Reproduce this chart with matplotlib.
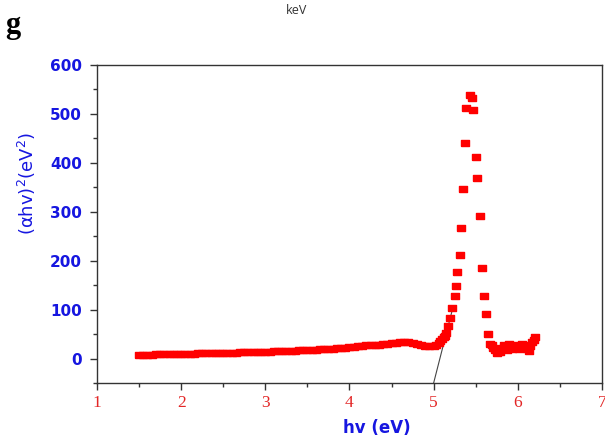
import matplotlib
matplotlib.use("Agg")
import matplotlib.pyplot as plt
from matplotlib.ticker import MultipleLocator

# photon energy (eV) and (alpha*h*nu)^2 (eV^2)
energy = [
    1.50, 1.55, 1.60, 1.65, 1.70, 1.75, 1.80, 1.85, 1.90, 1.95,
    2.00, 2.05, 2.10, 2.15, 2.20, 2.25, 2.30, 2.35, 2.40, 2.45,
    2.50, 2.55, 2.60, 2.65, 2.70, 2.75, 2.80, 2.85, 2.90, 2.95,
    3.00, 3.05, 3.10, 3.15, 3.20, 3.25, 3.30, 3.35, 3.40, 3.45,
    3.50, 3.55, 3.60, 3.65, 3.70, 3.75, 3.80, 3.85, 3.90, 3.95,
    4.00, 4.05, 4.10, 4.15, 4.20, 4.25, 4.30, 4.35, 4.40, 4.45,
    4.50, 4.55, 4.60, 4.65, 4.70, 4.75, 4.80, 4.85, 4.90, 4.95,
    5.00, 5.03, 5.06, 5.08, 5.10, 5.12, 5.13, 5.15, 5.17, 5.19,
    5.22, 5.25, 5.27, 5.28, 5.31, 5.33, 5.35, 5.37, 5.39, 5.43,
    5.45, 5.47, 5.50, 5.52, 5.55, 5.57, 5.60, 5.62, 5.65, 5.67,
    5.69, 5.71, 5.73, 5.75, 5.77, 5.79, 5.81, 5.83, 5.85, 5.87,
    5.89, 5.91, 5.93, 5.95, 5.97, 5.99, 6.01, 6.03, 6.05, 6.07,
    6.09, 6.11, 6.13, 6.15, 6.17, 6.19, 6.21,
]
absorption = [
    8, 8, 8, 8, 9, 9, 9, 9, 9, 10,
    10, 10, 10, 10, 11, 11, 11, 11, 11, 12,
    12, 12, 12, 12, 13, 13, 13, 13, 14, 14,
    14, 14, 15, 15, 15, 16, 16, 16, 17, 17,
    17, 18, 18, 19, 19, 20, 20, 21, 21, 22,
    23, 24, 25, 26, 27, 27, 28, 28, 29, 30,
    31, 32, 33, 33, 33, 32, 30, 28, 26, 25,
    26, 28, 32, 36, 40, 44, 47, 53, 66, 83,
    104, 127, 148, 176, 212, 266, 347, 441, 513, 539,
    533, 508, 412, 369, 291, 186, 127, 92, 51, 30,
    28, 22, 18, 12, 15, 13, 22, 27, 20, 18,
    30, 22, 20, 22, 27, 24, 20, 25, 30, 28,
    23, 20, 16, 25, 33, 38, 44,
]

# linear extrapolation of the absorption edge
tangent_x = [5.00, 5.23]
tangent_y = [-50, 105]

blue = "#1616e0"
red = "#e32626"

fig = plt.figure(figsize=(6.05, 4.36), dpi=100)
ax = fig.add_axes([0.1603, 0.1216, 0.8347, 0.7294])

rect = [(-1, -0.7), (1, -0.7), (1, 0.7), (-1, 0.7), (-1, -0.7)]
ax.plot(energy, absorption, linestyle="none", marker=rect, ms=6,
        color="red", mec="red", zorder=3)
ax.plot(tangent_x, tangent_y, color="#444444", lw=0.8, zorder=2)

ax.set_xlim(1, 7)
ax.set_ylim(-50, 600)
ax.xaxis.set_major_locator(MultipleLocator(1))
ax.xaxis.set_minor_locator(MultipleLocator(0.5))
ax.yaxis.set_major_locator(MultipleLocator(100))
ax.yaxis.set_minor_locator(MultipleLocator(50))
ax.tick_params(which="both", direction="out", top=False, right=False, color="#333333")
ax.tick_params(which="major", length=5, width=1)
ax.tick_params(which="minor", length=3, width=1)
ax.tick_params(axis="y", pad=6)
ax.tick_params(axis="x", pad=4)
for s in ax.spines.values():
    s.set_color("#333333")
    s.set_linewidth(1)

for lab in ax.get_yticklabels():
    lab.set_fontfamily("DejaVu Sans")
    lab.set_fontweight("bold")
    lab.set_fontsize(11)
    lab.set_color(blue)
for lab in ax.get_xticklabels():
    lab.set_fontfamily("Liberation Serif")
    lab.set_fontsize(12.5)
    lab.set_color(red)

fig.text(377 / 605, 1 - 428 / 436, "hv (eV)", ha="center", va="center",
         fontsize=12, fontweight="bold", color=blue, family="DejaVu Sans")
fig.text(27 / 605, 1 - 183 / 436, r"$\mathregular{(\alpha hv)^2(eV^2)}$",
         rotation=90, ha="center", va="center", fontsize=13, color=blue,
         family="Liberation Sans Narrow")
fig.text(297 / 605, 1 - 10 / 436, "keV", ha="center", va="center",
         fontsize=9, color="#333333", family="Open Sans")
fig.text(13 / 605, 1 - 25 / 436, "g", ha="center", va="center",
         fontsize=22, fontweight="bold", color="black", family="Liberation Serif")

fig.savefig("out.png", dpi=100)
